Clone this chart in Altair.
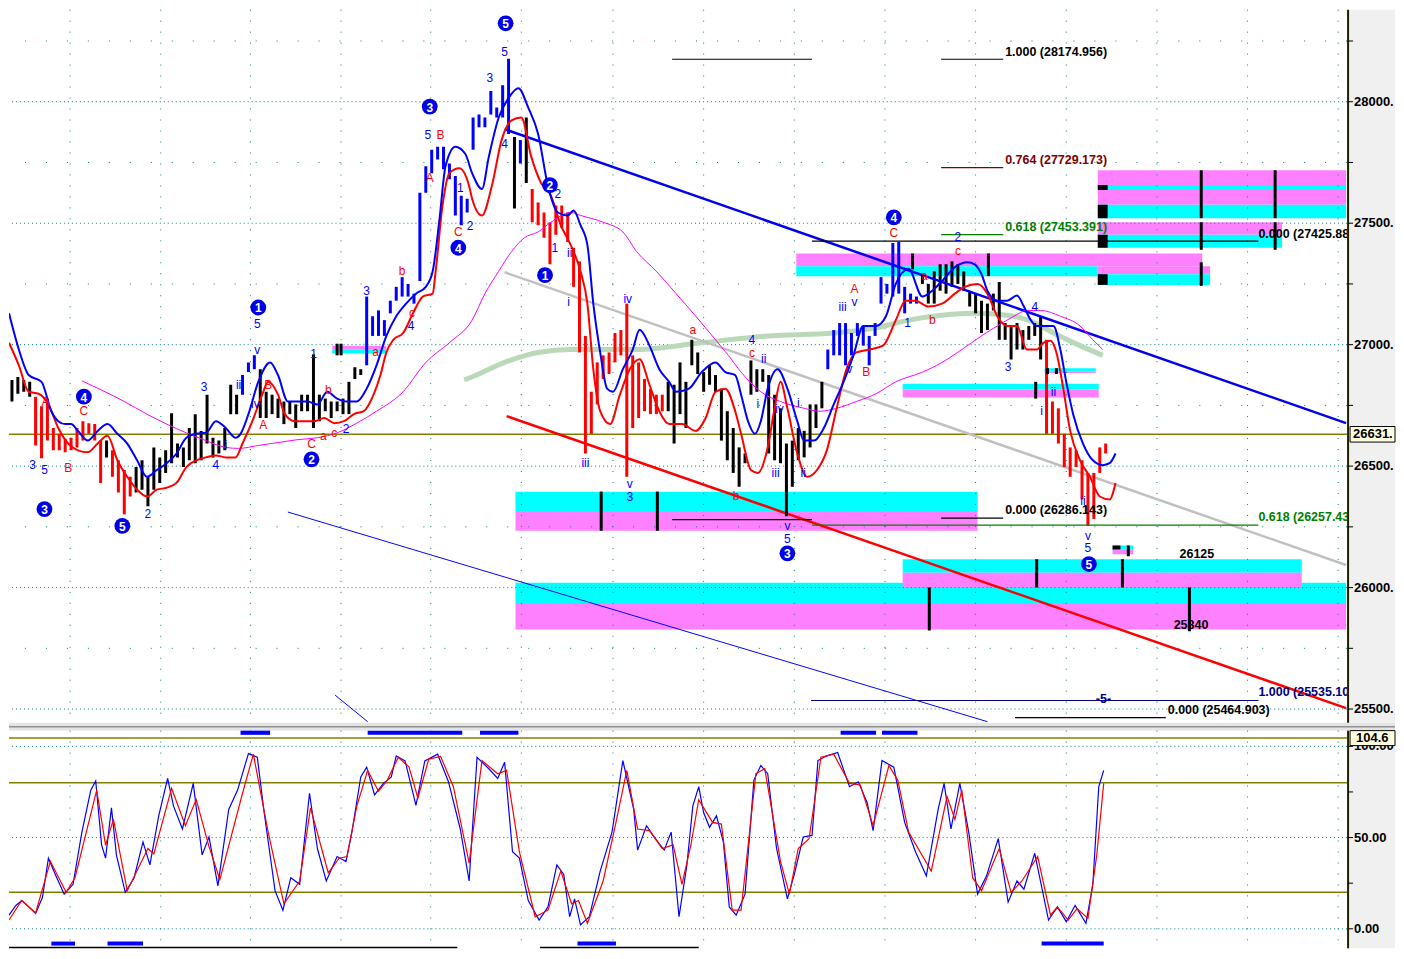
import altair as alt
import pandas as pd

# ---------------- layout ----------------
W, H1, H2 = 1340, 714, 218
XMAX = 1358
PMIN, PMAX = 25444, 28379
SMIN, SMAX = -10.7, 108.6
FONT = "Liberation Sans, Arial, sans-serif"
GAP = 8

# ---------------- price bars (time in chart time units) ----------------
bar_time = list(range(3, 1116, 6))
bar_high = [
    26855, 26867, 26855, 26847, 26786, 26746, 26778, 26657, 26633, 26613,
    26617, 26657, 26685, 26677, 26673, 26605, 26605, 26565, 26524, 26484,
    26456, 26496, 26524, 26456, 26577, 26536, 26565, 26718, 26593, 26577,
    26657, 26714, 26645, 26794, 26617, 26605, 26657, 26835, 26794, 26875,
    26927, 26956, 26899, 26806, 26794, 26778, 26766, 26766, 26754, 26794,
    26794, 26960, 26794, 26778, 26766, 26766, 26778, 26847, 26907, 26899,
    27198, 27117, 27141, 27101, 27181, 27238, 27278, 27250, 27210, 27625,
    27734, 27802, 27815, 27815, 27746, 27694, 27613, 27601, 27935, 27948,
    27935, 28044, 27976, 28068, 28177, 27855, 27843, 27935, 27641, 27585,
    27544, 27504, 27573, 27573, 27544, 27399, 27343, 27036, 26806, 26927,
    26956, 26968, 27048, 27060, 27169, 26956, 26927, 26859, 26818, 26794,
    26794, 26847, 26835, 26927, 26847, 27020, 26968, 26887, 26915, 26875,
    26818, 26726, 26657, 26577, 26552, 26935, 26899, 26899, 26875, 26794,
    26738, 26593, 26605, 26657, 26645, 26754, 26754, 26847, 26980, 27060,
    27089, 27089, 27048, 27089, 27077, 27036, 27089, 27278, 27250, 27419,
    27423, 27238, 27210, 27198, 27290, 27250, 27302, 27331, 27331, 27343,
    27331, 27302, 27222, 27210, 27181, 27169, 27210, 27258, 27089, 27077,
    27089, 27060, 27077, 27089, 27117, 27020, 26766, 26738, 26633, 26577,
    26565, 26524, 26472, 26472, 26577, 26593]
bar_low = [
    26766, 26798, 26806, 26786, 26585, 26532, 26605, 26565, 26565, 26557,
    26565, 26577, 26605, 26633, 26605, 26431, 26536, 26456, 26391, 26302,
    26375, 26391, 26403, 26335, 26403, 26431, 26472, 26512, 26536, 26496,
    26524, 26512, 26524, 26593, 26536, 26552, 26565, 26714, 26714, 26794,
    26887, 26899, 26698, 26698, 26714, 26698, 26673, 26714, 26657, 26726,
    26726, 26657, 26685, 26726, 26698, 26726, 26714, 26714, 26859, 26875,
    26915, 27036, 27036, 27036, 27129, 27181, 27198, 27198, 27169, 27262,
    27625, 27706, 27762, 27722, 27681, 27532, 27492, 27544, 27802, 27895,
    27895, 27948, 27935, 27935, 27867, 27561, 27746, 27665, 27504, 27492,
    27440, 27331, 27452, 27480, 27423, 27238, 26968, 26552, 26633, 26754,
    26859, 26879, 26927, 26956, 26456, 26657, 26698, 26726, 26714, 26714,
    26726, 26726, 26593, 26714, 26657, 26915, 26879, 26806, 26835, 26806,
    26605, 26524, 26472, 26415, 26512, 26794, 26806, 26847, 26552, 26524,
    26512, 26294, 26415, 26524, 26536, 26577, 26657, 26738, 26899, 26956,
    26956, 26915, 26956, 27036, 26996, 26915, 27036, 27169, 27210, 27198,
    27210, 27129, 27169, 27169, 27250, 27169, 27169, 27222, 27210, 27238,
    27250, 27222, 27157, 27129, 27048, 27060, 27141, 27020, 27020, 26939,
    26980, 26980, 27020, 27036, 26939, 26633, 26633, 26593, 26496, 26456,
    26496, 26363, 26254, 26282, 26472, 26552]
bar_color_runs = [("k", 4), ("r", 12), ("k", 1), ("r", 4), ("k", 18), ("b", 3),
                  ("k", 18), ("b", 25), ("k", 1), ("b", 1), ("k", 1), ("r", 23),
                  ("k", 27), ("b", 16), ("k", 21), ("r", 11)]

# ---------------- moving averages (time, price) ----------------
ma_blue = [(0, 27129), (10, 26980), (20, 26875), (33, 26847), (43, 26726), (50, 26685),
           (57, 26673), (63, 26673), (70, 26645), (80, 26605), (90, 26645), (100, 26673),
           (110, 26633), (120, 26593), (130, 26524), (140, 26456), (150, 26484), (160, 26512),
           (170, 26552), (180, 26617), (190, 26633), (200, 26637), (210, 26685), (220, 26657),
           (230, 26617), (235, 26633), (243, 26714), (253, 26847), (265, 26927), (273, 26875),
           (283, 26766), (293, 26766), (303, 26766), (313, 26754), (323, 26806), (333, 26778),
           (343, 26766), (353, 26766), (363, 26819), (373, 26915), (383, 27036), (393, 27117),
           (403, 27169), (413, 27210), (423, 27238), (430, 27302), (437, 27520), (443, 27734),
           (453, 27815), (463, 27786), (470, 27706), (480, 27641), (487, 27774), (497, 27935),
           (507, 28016), (517, 28056), (527, 27976), (537, 27867), (547, 27653), (557, 27544),
           (567, 27532), (573, 27552), (580, 27492), (587, 27411), (593, 27169), (600, 26968),
           (607, 26819), (613, 26806), (623, 26899), (633, 26980), (640, 27061), (650, 26996),
           (660, 26899), (670, 26847), (677, 26806), (690, 26819), (703, 26887), (717, 26927),
           (727, 26887), (737, 26875), (743, 26794), (750, 26685), (757, 26633), (763, 26685),
           (770, 26819), (780, 26899), (790, 26819), (800, 26685), (807, 26605), (817, 26605),
           (827, 26657), (837, 26754), (847, 26847), (857, 26956), (867, 27077), (880, 27077),
           (890, 27117), (900, 27250), (913, 27311), (927, 27198), (937, 27222), (947, 27262),
           (960, 27319), (973, 27339), (980, 27331), (987, 27290), (993, 27222), (1003, 27181),
           (1013, 27181), (1023, 27202), (1030, 27157), (1037, 27101), (1043, 27077), (1053, 27077),
           (1060, 27077), (1067, 26980), (1073, 26847), (1080, 26714), (1090, 26593), (1100, 26524),
           (1110, 26504), (1117, 26512), (1123, 26552)]
ma_red = [(0, 27008), (10, 26915), (20, 26806), (30, 26798), (40, 26754), (50, 26657),
          (60, 26593), (70, 26565), (80, 26557), (90, 26593), (100, 26625), (110, 26524),
          (120, 26456), (130, 26403), (140, 26375), (150, 26403), (160, 26411), (170, 26431),
          (180, 26496), (190, 26524), (200, 26536), (210, 26544), (220, 26536), (230, 26536),
          (237, 26593), (247, 26685), (257, 26794), (263, 26847), (273, 26794), (280, 26714),
          (290, 26685), (300, 26685), (310, 26685), (320, 26698), (330, 26677), (340, 26685),
          (350, 26714), (360, 26726), (370, 26794), (377, 26875), (383, 26968), (390, 27020),
          (400, 27048), (410, 27129), (420, 27198), (430, 27210), (433, 27302), (440, 27573),
          (447, 27706), (457, 27726), (467, 27653), (470, 27601), (480, 27532), (490, 27653),
          (500, 27843), (510, 27923), (520, 27935), (530, 27774), (540, 27665), (550, 27613),
          (560, 27492), (570, 27411), (580, 27302), (587, 27169), (593, 26899), (600, 26726),
          (610, 26673), (620, 26794), (630, 26899), (640, 26940), (650, 26835), (660, 26726),
          (670, 26673), (683, 26673), (697, 26645), (707, 26698), (717, 26806), (727, 26819),
          (737, 26726), (743, 26633), (753, 26484), (760, 26472), (770, 26577), (777, 26738),
          (783, 26847), (790, 26738), (800, 26552), (810, 26456), (820, 26484), (830, 26565),
          (840, 26738), (850, 26899), (860, 26968), (873, 26980), (887, 26996), (900, 27101),
          (910, 27181), (920, 27181), (933, 27157), (947, 27169), (960, 27210), (970, 27238),
          (983, 27250), (993, 27210), (1003, 27117), (1013, 27077), (1023, 27077), (1033, 26980),
          (1043, 26980), (1050, 27008), (1057, 27016), (1063, 26968), (1070, 26819), (1077, 26645),
          (1087, 26524), (1097, 26456), (1107, 26375), (1117, 26363), (1123, 26431)]
ma_slow = [(74, 26851), (117, 26766), (140, 26714), (160, 26673), (180, 26637), (200, 26605),
           (220, 26577), (233, 26573), (253, 26585), (273, 26597), (293, 26609), (313, 26617),
           (333, 26637), (353, 26677), (373, 26726), (400, 26806), (423, 26927), (447, 27008),
           (470, 27101), (483, 27210), (497, 27302), (510, 27383), (523, 27440), (537, 27464),
           (550, 27504), (570, 27544), (580, 27532), (603, 27504), (623, 27464), (637, 27383),
           (657, 27302), (677, 27210), (697, 27117), (717, 27020), (730, 26956), (743, 26887),
           (763, 26806), (783, 26766), (807, 26738), (823, 26726), (840, 26738), (860, 26766),
           (880, 26798), (900, 26847), (927, 26887), (947, 26927), (967, 26980), (987, 27036),
           (1003, 27077), (1020, 27117), (1033, 27141), (1047, 27141), (1067, 27117), (1087, 27077),
           (1100, 27020), (1110, 26980)]
ma_long = [(462, 26855), (470, 26867), (503, 26927), (537, 26968), (570, 26980), (637, 26980),
           (703, 27008), (770, 27036), (837, 27048), (880, 27069), (913, 27101), (947, 27121),
           (980, 27129), (1013, 27121), (1037, 27097), (1060, 27048), (1087, 26996), (1110, 26956)]

# ---------------- trend lines ----------------
trend_blue = [(503, 27887), (1357, 26677)]
trend_gray = [(503, 27298), (1357, 26093)]
trend_red = [(505, 26706), (1357, 25504)]
trend_thin = [(283, 26311), (993, 25448)]
trend_thin2 = [(331, 25557), (364, 25448)]
last_price = 26631
last_price_box = (26663, 26599)

# ---------------- zones (x1, x2, top, bottom, colour code) ----------------
zones = [
    (514, 983, 26395, 26315, "c"), (514, 983, 26315, 26234, "m"),
    (514, 1357, 26020, 25932, "c"), (514, 1357, 25932, 25827, "m"),
    (907, 1312, 26117, 26061, "c"), (907, 1312, 26061, 26000, "m"),
    (1120, 1141, 26173, 26157, "c"), (1120, 1141, 26157, 26137, "m"),
    (907, 1106, 26839, 26815, "c"), (907, 1106, 26815, 26782, "m"),
    (1051, 1103, 26903, 26891, "c"), (1051, 1103, 26891, 26883, "m"),
    (799, 1211, 27375, 27323, "m"), (799, 1105, 27323, 27282, "c"),
    (1105, 1219, 27323, 27290, "m"), (1105, 1219, 27290, 27246, "c"),
    (1105, 1357, 27718, 27657, "m"), (1105, 1357, 27657, 27637, "c"),
    (1105, 1357, 27637, 27576, "m"), (1105, 1357, 27576, 27520, "c"),
    (1105, 1292, 27504, 27452, "m"), (1105, 1292, 27452, 27399, "c"),
    (328, 383, 26996, 26979, "m"), (328, 383, 26979, 26964, "c"),
    (1105, 1115, 27657, 27637, "k"), (1105, 1115, 27576, 27520, "k"),
    (1105, 1115, 27452, 27399, "k"), (1105, 1115, 27290, 27246, "k"),
    (1120, 1128, 26173, 26157, "k"),
]
zone_marks = [(601, 26395, 26234), (658, 26395, 26234), (934, 26000, 25823), (1198, 26000, 25820),
              (1043, 26117, 26000), (1130, 26117, 26000), (1136, 26173, 26129), (1042, 26847, 26778),
              (1054, 26903, 26879), (1063, 26903, 26879), (994, 27375, 27282), (917, 27375, 27310),
              (1210, 27339, 27242), (1210, 27718, 27520), (1285, 27718, 27520), (1210, 27504, 27391),
              (1285, 27504, 27391), (333, 27004, 26956), (337, 27004, 26956)]

# ---------------- Fibonacci levels ----------------
fib_lines = [(673, 815, 28175, "k"), (946, 1009, 28174.956, "k"), (946, 1009, 27729.173, "d"),
             (946, 1009, 27453.391, "g"), (815, 1268, 27425.88, "k"), (673, 815, 26280, "k"),
             (946, 1009, 26286.143, "k"), (815, 1268, 26257.43, "g"), (814, 1268, 25535.1, "n"),
             (1021, 1174, 25464.903, "k")]
fib_texts = [(1011, 28206, "1.000 (28174.956)", "k"), (1011, 27762, "0.764 (27729.173)", "d"),
             (1011, 27484, "0.618 (27453.391)", "g"), (1268, 27456, "0.000 (27425.881)", "k"),
             (1011, 26319, "0.000 (26286.143)", "k"), (1268, 26291, "0.618 (26257.431)", "g"),
             (1268, 25569, "1.000 (25535.100)", "n"), (1176, 25496, "0.000 (25464.903)", "k"),
             (1188, 26137, "26125", "k"), (1182, 25847, "25840", "k"), (1103, 25541, "-5-", "n")]

# ---------------- Elliott wave labels ----------------
wave_blue = [(24, 26504, "3"), (36, 26484, "5"), (141, 26302, "2"), (198, 26827, "3"),
             (210, 26504, "4"), (220, 26585, "i"), (233, 26835, "ii"), (250, 26754, "iv"),
             (252, 26980, "v"), (252, 27085, "5"), (309, 26960, "1"), (342, 26653, "2"),
             (363, 27222, "3"), (408, 27077, "4"), (425, 27863, "5"), (458, 27645, "1"),
             (468, 27488, "2"), (488, 28097, "3"), (503, 28206, "5"), (503, 27827, "4"),
             (557, 27621, "2"), (554, 27399, "1"), (569, 27379, "ii"), (568, 27177, "i"),
             (585, 26512, "iii"), (628, 27190, "iv"), (630, 26427, "v"), (630, 26371, "3"),
             (754, 27020, "4"), (766, 26940, "ii"), (760, 26754, "i"), (782, 26734, "iv"),
             (801, 26758, "i"), (778, 26472, "iii"), (806, 26472, "ii"), (790, 26254, "v"),
             (790, 26202, "5"), (846, 27157, "iii"), (858, 27177, "v"), (853, 26899, "v"),
             (912, 27089, "1"), (963, 27444, "2"), (1014, 26907, "3"), (1041, 27157, "4"),
             (1048, 26726, "i"), (1060, 26806, "ii"), (1090, 26355, "ii"), (1095, 26214, "v"),
             (1095, 26161, "5")]
wave_red = [(37, 26766, "A"), (76, 26726, "C"), (60, 26492, "B"), (263, 26835, "B"),
            (258, 26669, "A"), (307, 26593, "C"), (319, 26625, "a"), (330, 26637, "c"),
            (324, 26815, "b"), (372, 26968, "a"), (409, 27129, "c"), (399, 27302, "b"),
            (427, 27686, "A"), (438, 27863, "B"), (456, 27464, "C"), (694, 27061, "a"),
            (754, 26964, "c"), (738, 26379, "b"), (858, 27230, "A"), (870, 26887, "B"),
            (898, 27460, "C"), (929, 27282, "a"), (937, 27101, "b"), (963, 27387, "c")]
wave_circles = [(36, 26323, "3"), (115, 26254, "5"), (76, 26786, "4"), (253, 27153, "1"),
                (307, 26528, "2"), (427, 27980, "3"), (456, 27399, "4"), (504, 28323, "5"),
                (549, 27657, "2"), (544, 27286, "1"), (790, 26141, "3"), (898, 27524, "4"),
                (1096, 26097, "5")]

# ---------------- stochastic (time, value) ----------------
stoch_k = [(0, 7.5), (7, 12.8), (13, 15.5), (20, 12), (27, 8.4), (34, 17.3), (40, 38.7), (47, 29.8),
           (56, 19), (65, 24.4), (74, 53), (83, 76), (88, 81), (94, 45.8), (98, 38.7), (104, 66.3),
           (109, 40.5), (118, 20), (127, 28), (136, 47.6), (143, 35), (152, 62), (161, 82.4),
           (167, 67.2), (176, 54.7), (187, 79.7), (196, 40.5), (203, 50.3), (212, 23.5), (223, 65.4),
           (232, 76), (243, 96), (252, 94), (259, 63.6), (270, 20.9), (278, 10.2), (286, 28),
           (295, 24.4), (305, 74.3), (313, 44), (322, 26.2), (333, 39.6), (342, 36.9), (348, 53),
           (357, 83.2), (363, 88.6), (371, 73.4), (380, 79.7), (388, 83.2), (393, 94.8), (402, 92),
           (413, 67.6), (422, 92), (435, 95.7), (446, 80.6), (458, 54.7), (467, 26.2), (475, 94),
           (487, 87.7), (496, 82.4), (503, 91.3), (511, 42.2), (518, 38.7), (527, 15.5), (538, 4.8),
           (547, 12), (556, 35), (563, 29.8), (569, 6.6), (574, 16.4), (580, 2.1), (589, 6.6),
           (600, 31.6), (612, 53), (623, 92.2), (634, 65.4), (638, 43.1), (647, 56.5), (656, 49.4),
           (665, 43.1), (672, 53), (680, 6.6), (688, 35), (694, 67.2), (700, 77.9), (705, 63.6),
           (711, 55.6), (718, 61.9), (725, 47.6), (731, 12), (738, 7.5), (747, 19), (756, 81.5),
           (763, 89.5), (770, 85), (779, 44), (790, 16.4), (797, 29.8), (806, 50.3), (815, 51.2),
           (821, 92.2), (830, 94.8), (841, 96.6), (853, 77.9), (862, 80.6), (871, 69), (877, 53.8),
           (886, 92.2), (898, 88.6), (909, 58.3), (920, 42.2), (931, 28.9), (943, 65.4), (949, 79.7),
           (956, 54.7), (965, 79.7), (974, 53), (983, 19), (992, 28.9), (1004, 49.4), (1014, 14.6),
           (1023, 26.2), (1030, 21.7), (1041, 41.4), (1055, 4.8), (1064, 12), (1073, 3.9),
           (1082, 12.8), (1093, 3), (1100, 24.4), (1106, 77.9), (1111, 86.8)]
stoch_d = [(0, 4.8), (13, 15.5), (27, 8.7), (42, 37), (58, 20), (67, 28), (89, 76), (98, 45.8),
           (106, 60), (120, 20.9), (141, 44), (147, 41), (165, 77), (179, 56.5), (190, 70.8),
           (203, 45), (214, 27), (237, 74.3), (248, 95.7), (263, 53), (279, 13.7), (295, 26.2),
           (306, 66.3), (324, 30.7), (335, 38.7), (343, 39.6), (353, 67.2), (364, 86.8), (375, 75.4),
           (384, 81.5), (395, 94), (406, 88.6), (415, 71.7), (426, 93), (438, 94.5), (451, 77.9),
           (467, 36), (480, 92.2), (496, 85), (505, 86.8), (518, 42.2), (534, 6.6), (547, 10.2),
           (560, 31.6), (571, 13.7), (578, 15.5), (587, 3), (603, 26.2), (616, 58.3), (627, 86.8),
           (638, 54.7), (650, 53.8), (663, 44), (674, 46), (683, 24.4), (692, 45.8), (700, 70.8),
           (714, 58.3), (723, 57.4), (734, 10.2), (743, 10.2), (758, 85), (767, 87.7), (783, 36.9),
           (792, 19), (801, 44), (812, 49.4), (824, 94), (837, 95.7), (853, 79.7), (864, 78.8),
           (877, 56.5), (893, 89.5), (902, 81.5), (913, 53), (936, 31.6), (952, 72.5), (960, 60),
           (967, 76), (978, 28), (987, 20.9), (1005, 44), (1017, 20), (1028, 26.2), (1044, 39.6),
           (1057, 7.5), (1064, 12), (1075, 4.8), (1084, 11), (1095, 5.7), (1104, 40.5), (1111, 79.7)]
stoch_last = 104.6
stoch_last_box = (108.6, 100.4)
# signal bands: (start, end, top value, bottom value)
osc_bands = [(235, 265, 108.6, 106.3), (364, 460, 108.6, 106.3), (478, 517, 108.6, 106.3),
             (844, 880, 108.6, 106.3), (886, 922, 108.6, 106.3),
             (43, 67, -7.0, -9.2), (100, 136, -7.0, -9.2), (577, 616, -7.0, -9.2), (1048, 1111, -7.0, -9.2)]
osc_base_lines = [(0, 455, -10.2), (539, 700, -10.2)]

# ---------------- grid / axis values ----------------
price_major = [25500, 26000, 26500, 27000, 27500, 28000]
price_minor = [25750, 26250, 26750, 27250, 27750, 28250]
price_ticks = [25500, 25750, 26000, 26250, 26500, 26750, 27000, 27250, 27500, 27750, 28000, 28250]
price_labels = ["25500.", "26000.", "26500.", "27000.", "27500.", "28000."]
time_grid = [62, 154, 245, 337, 428, 520, 613, 705, 797, 889, 981, 1073, 1165, 1257, 1349]
osc_dotted = [0, 50, 100]
osc_levels = [20, 80, 104.6]
osc_ticks = [0, 25, 50, 75, 100]
osc_labels = ["0.00", "50.00", "100.00"]

# ================= chart =================
xs = alt.Scale(domain=[0, XMAX], nice=False, zero=False)
ys = alt.Scale(domain=[PMIN, PMAX], nice=False, zero=False)
ss = alt.Scale(domain=[SMIN, SMAX], nice=False, zero=False)
one = pd.DataFrame({"v": [0]})


def X(f):
    return alt.X(f + ":Q", scale=xs, axis=None)


def Y(f, sc=ys):
    return alt.Y(f + ":Q", scale=sc, axis=None)


def line(pairs, sc=ys, **mk):
    df = pd.DataFrame(pairs, columns=["t", "v"])
    return alt.Chart(df).mark_line(clip=True, **mk).encode(x=X("t"), y=Y("v", sc))


def axis_panel(height):
    return alt.Chart(one).mark_rect(color="#f0f0f0").encode(
        x=alt.value(W + 1), x2=alt.value(W + 48), y=alt.value(0), y2=alt.value(height))


def right_axis(ticks, major, labels, sc, height):
    return [
        alt.Chart(one).mark_rule(color="#202000", strokeWidth=2).encode(
            x=alt.value(W + 1), y=alt.value(0), y2=alt.value(height)),
        alt.Chart(pd.DataFrame({"v": ticks})).mark_rule(color="black", strokeWidth=1).encode(
            x=alt.value(W + 1), x2=alt.value(W + 6), y=Y("v", sc)),
        alt.Chart(pd.DataFrame({"v": major, "s": labels})).mark_text(
            align="left", baseline="middle", font=FONT, fontSize=13, fontWeight="bold",
            color="black").encode(x=alt.value(W + 7), y=Y("v", sc), text="s:N"),
    ]


teal = "#008080"
bar_colors = [c for c, n in bar_color_runs for _ in range(n)]
bars_df = pd.DataFrame({"t": bar_time, "hi": bar_high, "lo": bar_low, "c": bar_colors})
zones_df = pd.DataFrame(zones, columns=["x1", "x2", "top", "bot", "c"])
zm_df = pd.DataFrame(zone_marks, columns=["t", "top", "bot"])
fl_df = pd.DataFrame(fib_lines, columns=["x1", "x2", "v", "c"])
ft_df = pd.DataFrame(fib_texts, columns=["t", "v", "s", "c"])
wb_df = pd.DataFrame(wave_blue, columns=["t", "v", "s"])
wr_df = pd.DataFrame(wave_red, columns=["t", "v", "s"])
wc_df = pd.DataFrame(wave_circles, columns=["t", "v", "s"])
lp_df = pd.DataFrame({"v": [last_price], "top": [last_price_box[0]], "bot": [last_price_box[1]],
                      "s": ["26631."]})
sl_df = pd.DataFrame({"v": [stoch_last], "top": [stoch_last_box[0]], "bot": [stoch_last_box[1]],
                      "s": ["104.6"]})

fib_scale = alt.Scale(domain=["k", "d", "g", "n"], range=["#000000", "#800000", "#008000", "#000080"])

top_layers = [
    axis_panel(H1),
    # separator strip between the two panes
    alt.Chart(one).mark_rect(color="#e4e4e4").encode(
        x=alt.value(0), x2=alt.value(W + 48), y=alt.value(H1), y2=alt.value(H1 + GAP)),
    alt.Chart(one).mark_rule(color="#909090", strokeWidth=1.5).encode(
        x=alt.value(0), x2=alt.value(W + 48), y=alt.value(H1 + 4)),
    alt.Chart(zones_df).mark_rect(clip=True).encode(
        x=X("x1"), x2="x2:Q", y=Y("top"), y2="bot:Q",
        color=alt.Color("c:N", scale=alt.Scale(domain=["c", "m", "k"],
                                               range=["#00ffff", "#ff80ff", "#000000"]), legend=None)),
    alt.Chart(pd.DataFrame({"v": price_major})).mark_rule(color=teal, strokeDash=[1, 3], strokeWidth=1).encode(y=Y("v")),
    alt.Chart(pd.DataFrame({"v": price_minor})).mark_rule(color=teal, strokeDash=[1, 20], strokeWidth=1).encode(y=Y("v")),
    alt.Chart(pd.DataFrame({"t": time_grid})).mark_rule(color=teal, strokeDash=[1, 10], strokeWidth=1).encode(x=X("t")),
    alt.Chart(pd.DataFrame({"v": [last_price]})).mark_rule(color="#808000", strokeWidth=1.5).encode(y=Y("v")),
    line(ma_long, color="#b9d9b9", strokeWidth=5, interpolate="monotone"),
    line(trend_gray, color="#c0c0c0", strokeWidth=2.5),
    line(trend_thin, color="#0000ff", strokeWidth=1),
    line(trend_thin2, color="#0000ff", strokeWidth=1),
    line(trend_red, color="#ff0000", strokeWidth=2.5),
    alt.Chart(bars_df).mark_rule(clip=True, strokeWidth=3).encode(
        x=X("t"), y=Y("lo"), y2="hi:Q",
        color=alt.Color("c:N", scale=alt.Scale(domain=["k", "r", "b"],
                                               range=["#000000", "#ff0000", "#0000ff"]), legend=None)),
    line(trend_blue, color="#0000ee", strokeWidth=2.5),
    line(ma_slow, color="#ff00ff", strokeWidth=1, interpolate="monotone"),
    line(ma_red, color="#ff0000", strokeWidth=2, interpolate="monotone"),
    line(ma_blue, color="#0000ff", strokeWidth=2, interpolate="monotone"),
    alt.Chart(zm_df).mark_rule(color="black", strokeWidth=3, clip=True).encode(x=X("t"), y=Y("top"), y2="bot:Q"),
    alt.Chart(fl_df).mark_rule(strokeWidth=1.2, clip=True).encode(
        x=X("x1"), x2="x2:Q", y=Y("v"), color=alt.Color("c:N", scale=fib_scale, legend=None)),
    alt.Chart(ft_df).mark_text(align="left", baseline="middle", font=FONT, fontSize=12.5,
                               fontWeight="bold", clip=True).encode(
        x=X("t"), y=Y("v"), text="s:N", color=alt.Color("c:N", scale=fib_scale, legend=None)),
    alt.Chart(wb_df).mark_text(align="center", baseline="middle", font=FONT, fontSize=12,
                               color="#0000ff").encode(x=X("t"), y=Y("v"), text="s:N"),
    alt.Chart(wr_df).mark_text(align="center", baseline="middle", font=FONT, fontSize=12,
                               color="#ff0000").encode(x=X("t"), y=Y("v"), text="s:N"),
    alt.Chart(wc_df).mark_point(shape="circle", filled=True, size=250, color="#0000e6",
                                opacity=1).encode(x=X("t"), y=Y("v")),
    alt.Chart(wc_df).mark_text(align="center", baseline="middle", font=FONT, fontSize=12,
                               fontWeight="bold", color="white", dy=1).encode(x=X("t"), y=Y("v"), text="s:N"),
] + right_axis(price_ticks, price_major, price_labels, ys, H1) + [
    alt.Chart(lp_df).mark_rect(fill="#ffffe0", stroke="black", strokeWidth=1).encode(
        x=alt.value(W + 3), x2=alt.value(W + 48), y=Y("top"), y2="bot:Q"),
    alt.Chart(lp_df).mark_text(align="left", baseline="middle", font=FONT, fontSize=13,
                               fontWeight="bold", color="black").encode(
        x=alt.value(W + 6), y=Y("v"), text="s:N"),
]
top = alt.layer(*top_layers).resolve_scale(color="independent").properties(width=W, height=H1)

ob_df = pd.DataFrame(osc_bands, columns=["x1", "x2", "top", "bot"])
obase_df = pd.DataFrame(osc_base_lines, columns=["x1", "x2", "v"])

bottom_layers = [
    axis_panel(H2),
    alt.Chart(pd.DataFrame({"v": osc_dotted})).mark_rule(color=teal, strokeDash=[1, 3]).encode(y=Y("v", ss)),
    alt.Chart(pd.DataFrame({"t": time_grid})).mark_rule(color=teal, strokeDash=[1, 10]).encode(x=X("t")),
    alt.Chart(pd.DataFrame({"v": osc_levels})).mark_rule(color="#808000", strokeWidth=1.5).encode(y=Y("v", ss)),
    alt.Chart(ob_df).mark_rect(color="#0000ff").encode(x=X("x1"), x2="x2:Q", y=Y("top", ss), y2="bot:Q"),
    alt.Chart(obase_df).mark_rule(color="black", strokeWidth=1.5).encode(x=X("x1"), x2="x2:Q", y=Y("v", ss)),
    line(stoch_k, sc=ss, color="#0000ff", strokeWidth=1.2),
    line(stoch_d, sc=ss, color="#ff0000", strokeWidth=1.2),
] + right_axis(osc_ticks, osc_dotted, osc_labels, ss, H2) + [
    alt.Chart(sl_df).mark_rect(fill="#ffffe0", stroke="black", strokeWidth=1).encode(
        x=alt.value(W + 3), x2=alt.value(W + 48), y=Y("top", ss), y2="bot:Q"),
    alt.Chart(sl_df).mark_text(align="left", baseline="middle", font=FONT, fontSize=13,
                               fontWeight="bold", color="black").encode(
        x=alt.value(W + 9), y=Y("v", ss), text="s:N"),
]
bottom = alt.layer(*bottom_layers).properties(width=W, height=H2)

chart = alt.vconcat(top, bottom, spacing=GAP, bounds="flush").properties(
    padding=0, background="white"
).configure_view(strokeWidth=0, fill="white")

chart.save("out.html", embed_options={"renderer": "svg", "actions": False})
